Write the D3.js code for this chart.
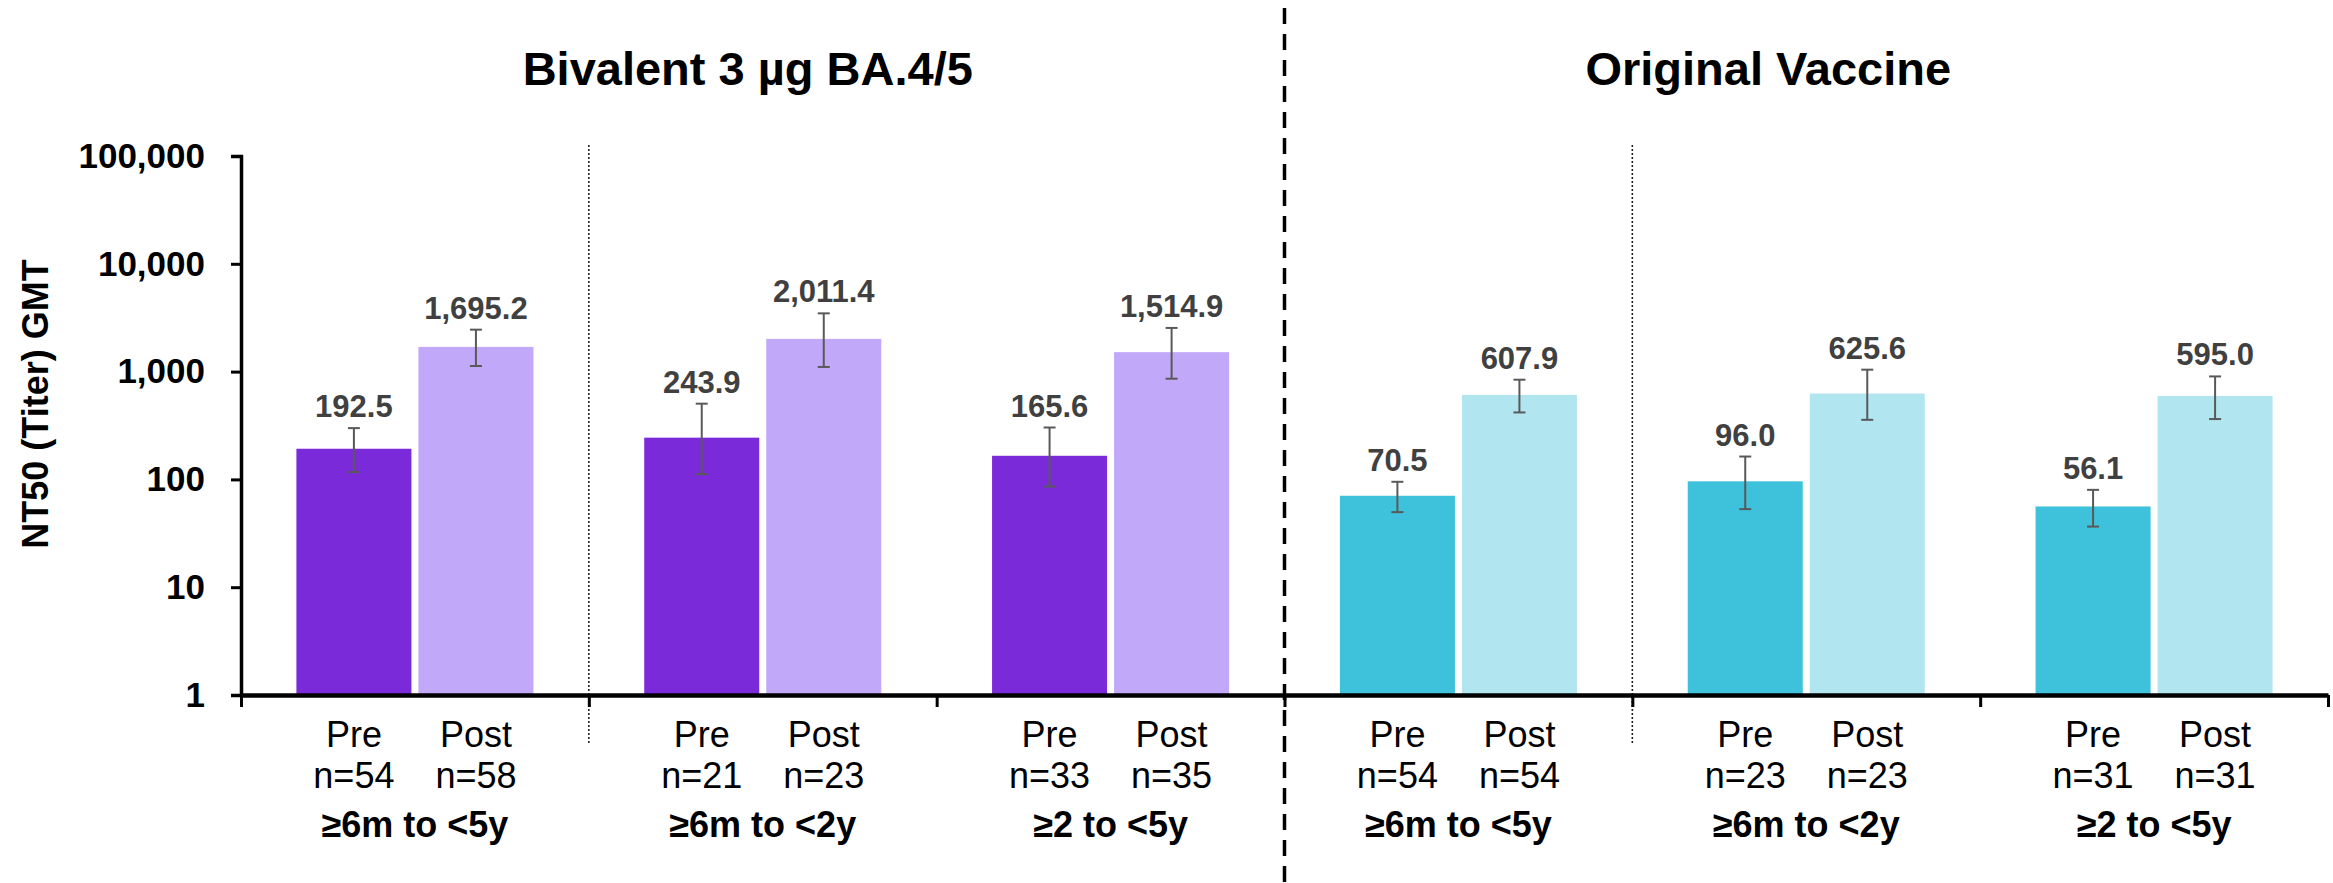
<!DOCTYPE html>
<html><head><meta charset="utf-8">
<script src="https://cdn.jsdelivr.net/npm/d3@7"></script>
<style>
body{margin:0;background:#fff;}
text{font-family:"Liberation Sans", Arial, sans-serif;}
</style>
</head><body>
<svg id="c" width="2333" height="883"></svg>
<script>
// ---- data ----
const vaccines = ["Bivalent 3 µg BA.4/5", "Original Vaccine"];
const groups = ["≥6m to <5y", "≥6m to <2y", "≥2 to <5y", "≥6m to <5y", "≥6m to <2y", "≥2 to <5y"];
const groupVaccine = [0, 0, 0, 1, 1, 1];
const timepoints = ["Pre", "Post"];
const preGMT = [192.5, 243.9, 165.6, 70.5, 96.0, 56.1];
const postGMT = [1695.2, 2011.4, 1514.9, 607.9, 625.6, 595.0];
const preLow = [117, 112, 86, 49.7, 53, 36.5];
const preHigh = [299, 504, 303, 95, 163, 80];
const postLow = [1127, 1104, 859, 418, 357, 363];
const postHigh = [2449, 3470, 2541, 841, 1042, 902];
const preN = [54, 21, 33, 54, 23, 31];
const postN = [58, 23, 35, 54, 23, 31];
const yTicks = [1, 10, 100, 1000, 10000, 100000];
const preColors = ["#7B2AD9", "#3EC2DC"];
const postColors = ["#C1A8F9", "#B1E6F0"];

// ---- layout ----
const svg = d3.select("#c");
const X0 = 241, X1 = 2328, Y0 = 695, YTOP = 156;
const y = d3.scaleLog().domain([1, 100000]).range([Y0, YTOP]);
const xGroup = d3.scaleBand().domain(d3.range(groups.length)).range([X0, X1]).padding(0);
const xSub = d3.scaleBand().domain(timepoints).range([0, xGroup.bandwidth()]).paddingInner(0.0574).paddingOuter(0.454);
const xBound = d3.scaleLinear().domain([0, groups.length]).range([X0, X1]);

const rows = [];
groups.forEach((g, i) => {
  rows.push({g: i, t: "Pre", v: preGMT[i], lo: preLow[i], hi: preHigh[i], n: preN[i], c: preColors[groupVaccine[i]]});
  rows.push({g: i, t: "Post", v: postGMT[i], lo: postLow[i], hi: postHigh[i], n: postN[i], c: postColors[groupVaccine[i]]});
});
const cx = d => xGroup(d.g) + xSub(d.t) + xSub.bandwidth() / 2;

// separators
[1, 4].forEach(i => {
  svg.append("line").attr("x1", xBound(i)).attr("x2", xBound(i)).attr("y1", 145).attr("y2", 743)
    .attr("stroke", "#222").attr("stroke-width", 1.6).attr("stroke-dasharray", "2,2");
});
svg.append("line").attr("x1", xBound(3)).attr("x2", xBound(3)).attr("y1", 8).attr("y2", 883)
  .attr("stroke", "#000").attr("stroke-width", 3.5).attr("stroke-dasharray", "16,10");

// bars
svg.append("g").selectAll("rect").data(rows).join("rect")
  .attr("x", d => xGroup(d.g) + xSub(d.t))
  .attr("width", xSub.bandwidth())
  .attr("y", d => y(d.v))
  .attr("height", d => Y0 - y(d.v))
  .attr("fill", d => d.c);

// error bars
const eb = svg.append("g").attr("stroke", "#595959").attr("stroke-width", 2);
rows.forEach(d => {
  const x = cx(d);
  eb.append("line").attr("x1", x).attr("x2", x).attr("y1", y(d.hi)).attr("y2", y(d.lo));
  eb.append("line").attr("x1", x - 6).attr("x2", x + 6).attr("y1", y(d.hi)).attr("y2", y(d.hi));
  eb.append("line").attr("x1", x - 6).attr("x2", x + 6).attr("y1", y(d.lo)).attr("y2", y(d.lo));
});

// value labels
const fmt = d3.format(",.1f");
svg.append("g").selectAll("text").data(rows).join("text")
  .attr("x", cx).attr("y", d => y(d.hi) - 11)
  .attr("text-anchor", "middle").attr("font-size", 31).attr("font-weight", "bold").attr("fill", "#404040")
  .text(d => fmt(d.v));

// y axis
const yAxis = svg.append("g").attr("transform", `translate(${X0},0)`)
  .call(d3.axisLeft(y).tickValues(yTicks).tickFormat(d3.format(",")).tickSize(10).tickPadding(26));
yAxis.select(".domain").attr("stroke", "#000").attr("stroke-width", 3.5);
yAxis.selectAll(".tick line").attr("stroke", "#000").attr("stroke-width", 3);
yAxis.selectAll(".tick text").attr("font-size", 35).attr("font-weight", "bold").attr("fill", "#000")
  .attr("font-family", "Liberation Sans, Arial, sans-serif");

// x axis
const xAxis = svg.append("g").attr("transform", `translate(0,${Y0})`)
  .call(d3.axisBottom(xBound).tickValues(d3.range(groups.length + 1)).tickFormat("").tickSize(12).tickSizeOuter(0));
xAxis.select(".domain").attr("stroke", "#000").attr("stroke-width", 4.5);
xAxis.selectAll(".tick line").attr("stroke", "#000").attr("stroke-width", 3);

// category labels
const lab = svg.append("g").attr("text-anchor", "middle").attr("fill", "#000");
rows.forEach(d => {
  lab.append("text").attr("x", cx(d)).attr("y", 747).attr("font-size", 36).text(d.t);
  lab.append("text").attr("x", cx(d)).attr("y", 788).attr("font-size", 36).text("n=" + d.n);
});
groups.forEach((g, i) => {
  lab.append("text").attr("x", xGroup(i) + xGroup.bandwidth() / 2).attr("y", 837)
    .attr("font-size", 36).attr("font-weight", "bold").text(g);
});

// section titles
const titleShift = [-15, -38];
vaccines.forEach((v, k) => {
  const idx = groups.map((g, i) => i).filter(i => groupVaccine[i] === k);
  const left = xGroup(idx[0]), right = xGroup(idx[idx.length - 1]) + xGroup.bandwidth();
  svg.append("text").attr("x", (left + right) / 2 + titleShift[k]).attr("y", 85)
    .attr("text-anchor", "middle").attr("font-size", 47).attr("font-weight", "bold").attr("fill", "#000")
    .text(v);
});

// y axis title
svg.append("text").attr("transform", "translate(48,404) rotate(-90)")
  .attr("text-anchor", "middle").attr("font-size", 36).attr("font-weight", "bold").attr("fill", "#000")
  .text("NT50 (Titer) GMT");
</script>
</body></html>
